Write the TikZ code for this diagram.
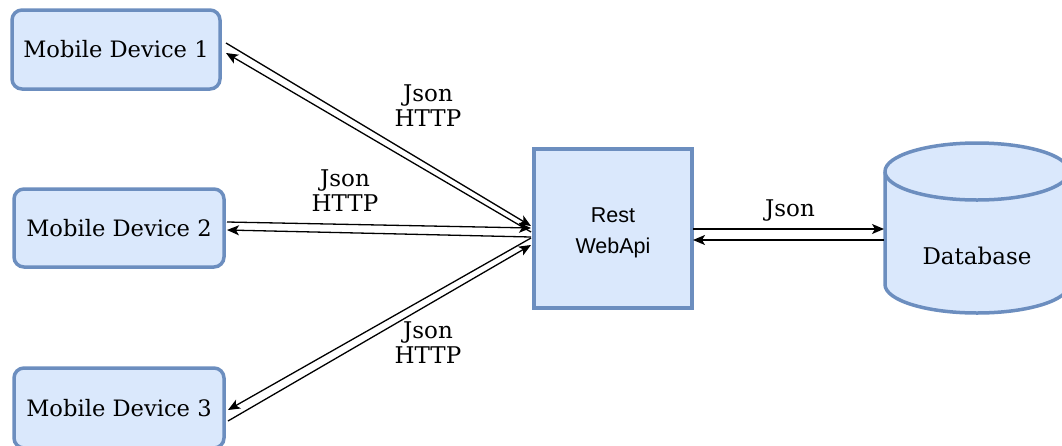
\documentclass[tikz,border=0pt]{standalone}
\usepackage{fontspec}
\setmainfont{DejaVu Serif}
\newfontfamily\restfont{Liberation Sans}
\usetikzlibrary{arrows.meta}
\definecolor{boxfill}{HTML}{DAE8FC}
\definecolor{boxline}{HTML}{6C8EBF}
\begin{document}
\begin{tikzpicture}[x=1pt,y=1pt,
  devbox/.style={draw=boxline,fill=boxfill,line width=3.5pt,rounded corners=10pt,
    minimum width=208pt,minimum height=79pt,inner sep=0pt,outer sep=0pt,
    font=\fontsize{22.6}{25}\selectfont},
  restbox/.style={draw=boxline,fill=boxfill,line width=3.5pt,
    minimum width=158pt,minimum height=159pt,inner sep=0pt,outer sep=0pt,
    align=center,font=\restfont\fontsize{21.5}{31}\selectfont},
  dbtext/.style={minimum width=184pt,inner sep=0pt,outer sep=0pt,
    font=\fontsize{23}{25}\selectfont},
  dbshape/.style={draw=boxline,fill=boxfill,line width=3.5pt},
  lbl/.style={align=center,inner sep=0pt,font=\fontsize{23}{25}\selectfont},
  conn/.style={line width=1.3pt,-{Stealth[length=12pt,width=10pt,inset=3pt]}}]
\useasboundingbox (0,0) rectangle (1062,-445);
\clip (0,0) rectangle (1062,-445);
% cylinder
\path[dbshape] (885,-171.5) -- (885,-284.5)
  arc[start angle=180,end angle=360,x radius=92pt,y radius=28.5pt]
  -- (1069,-171.5)
  arc[start angle=0,end angle=180,x radius=92pt,y radius=28.5pt] -- cycle;
\draw[boxline,line width=3.5pt] (885,-171.5)
  arc[start angle=180,end angle=360,x radius=92pt,y radius=28.5pt];
\node[dbtext] (db) at (977,-256) {Database};
% nodes
\node[devbox] (md1) at (116,-49.5) {Mobile Device 1};
\node[devbox,minimum width=210pt,minimum height=78pt] (md2) at (119,-228) {Mobile Device 2};
\node[devbox,minimum width=210pt,minimum height=80pt] (md3) at (119,-408) {Mobile Device 3};
\node[restbox] (rest) at (613,-228.5) {\rule{0pt}{23pt}Rest\\WebApi};
% connectors
\draw[conn] ([shift={(6,6.5)}]md1.east) -- ([shift={(-3,2.5)}]rest.west);
\draw[conn] ([shift={(-3,-3.5)}]rest.west) -- ([shift={(6,-3.5)}]md1.east);
\draw[conn] ([shift={(3,6)}]md2.east) -- ([shift={(-3,0.5)}]rest.west);
\draw[conn] ([shift={(-3,-8.5)}]rest.west) -- ([shift={(3,-2)}]md2.east);
\draw[conn] ([shift={(-3,-9.5)}]rest.west) -- ([shift={(4,-2)}]md3.east);
\draw[conn] ([shift={(4,-13)}]md3.east) -- ([shift={(-3,-16.5)}]rest.west);
\draw[conn] ([shift={(1,-0.5)}]rest.east) -- ([shift={(-1,27)}]db.west);
\draw[conn] ([shift={(-1,16)}]db.west) -- ([shift={(1,-11.5)}]rest.east);
% labels
\node[lbl] (l1) at (428,-106) {Json\\HTTP};
\node[lbl] (l2) at (345,-191) {Json\\HTTP};
\node[lbl] (l3) at (428,-343) {Json\\HTTP};
\node[lbl] (l4) at (790,-211) {Json};
\end{tikzpicture}
\end{document}
